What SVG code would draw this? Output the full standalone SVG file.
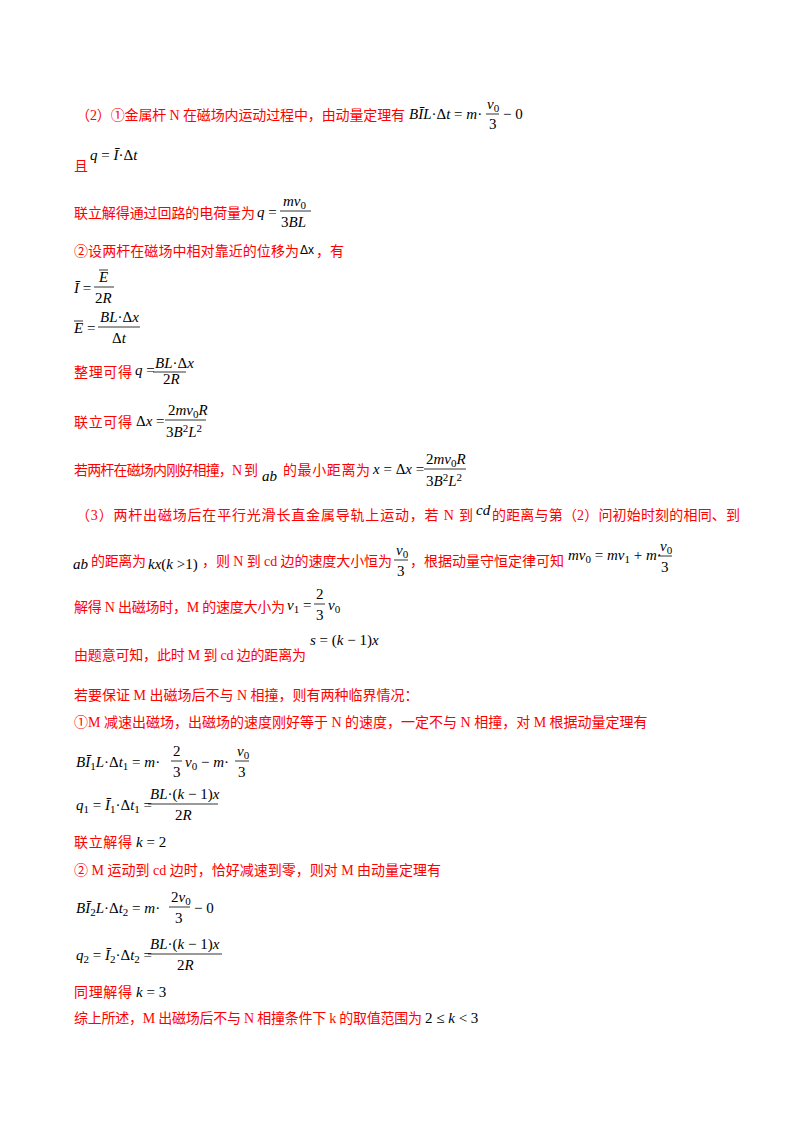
<svg xmlns="http://www.w3.org/2000/svg" width="800" height="1132" viewBox="0 0 800 1132">
<style>
.r{font-family:"Liberation Serif","Noto Sans CJK SC",serif;font-size:14px;fill:#ff0000}
.m{font-family:"Liberation Serif",serif;font-size:15px;font-style:italic;fill:#000}
.s{font-size:11px}
.n{font-style:normal}
line{stroke:#000;stroke-width:0.8}
</style>
<rect width="800" height="1132" fill="#fff"/>
<text class="r" x="76" y="120" textLength="329" lengthAdjust="spacing">（2）①金属杆 N 在磁场内运动过程中，由动量定理有</text>
<text class="m" x="409" y="119">BĪL<tspan class="n">·Δ</tspan>t<tspan class="n"> = </tspan>m<tspan class="n">·</tspan></text>
<text class="m" x="487" y="109">v<tspan class="s n" dy="3">0</tspan></text><line x1="486" y1="114" x2="499" y2="114"/><text class="m n" x="489" y="129">3</text>
<text class="m n" x="503" y="119">− 0</text>

<text class="m" x="90" y="160">q<tspan class="n"> = </tspan>Ī<tspan class="n">·Δ</tspan>t</text>
<text class="r" x="74" y="171">且</text>

<text class="r" x="74" y="218" textLength="181" lengthAdjust="spacing">联立解得通过回路的电荷量为</text>
<text class="m" x="257" y="217">q<tspan class="n"> =</tspan></text>
<text class="m" x="283" y="206">mv<tspan class="s n" dy="3">0</tspan></text><line x1="280" y1="211" x2="311" y2="211"/><text class="m n" x="281" y="227">3<tspan font-style="italic">BL</tspan></text>

<text class="r" x="74" y="256" textLength="225" lengthAdjust="spacing">②设两杆在磁场中相对靠近的位移为</text>
<text x="300" y="254" font-family="Liberation Sans" font-size="12" fill="#000">Δx</text>
<text class="r" x="316" y="256">，有</text>

<text class="m" x="74" y="293">Ī<tspan class="n"> =</tspan></text>
<text class="m" x="99" y="282">E</text><line x1="94" y1="287" x2="114" y2="287"/><line x1="99" y1="270" x2="108" y2="270"/><text class="m" x="95" y="303"><tspan class="n">2</tspan>R</text>

<text class="m" x="74" y="333">E<tspan class="n"> =</tspan></text><line x1="74" y1="321" x2="83" y2="321"/>
<text class="m" x="100" y="322">BL<tspan class="n">·Δ</tspan>x</text><line x1="98" y1="327" x2="140" y2="327"/><text class="m" x="112" y="343"><tspan class="n">Δ</tspan>t</text>

<text class="r" x="74" y="377" textLength="58" lengthAdjust="spacing">整理可得</text>
<text class="m" x="135" y="375" font-size="11">q<tspan class="n"> =</tspan></text>
<text class="m" x="155" y="368" font-size="10">BL<tspan class="n">·Δ</tspan>x</text><line x1="153" y1="372" x2="186" y2="372"/><text class="m" x="163" y="384" font-size="10"><tspan class="n">2</tspan>R</text>

<text class="r" x="74" y="427" textLength="58" lengthAdjust="spacing">联立可得</text>
<text class="m" x="136" y="426"><tspan class="n">Δ</tspan>x<tspan class="n"> =</tspan></text>
<text class="m" x="168" y="415"><tspan class="n">2</tspan>mv<tspan class="s n" dy="3">0</tspan><tspan dy="-3">R</tspan></text><line x1="165" y1="420" x2="206" y2="420"/><text class="m" x="166" y="437"><tspan class="n">3</tspan>B<tspan class="s n" dy="-5">2</tspan><tspan dy="5">L</tspan><tspan class="s n" dy="-5">2</tspan></text>

<text class="r" x="74" y="475" textLength="184" lengthAdjust="spacing">若两杆在磁场内刚好相撞，N 到</text>
<text class="m" x="262" y="481">ab</text>
<text class="r" x="283" y="475" textLength="87" lengthAdjust="spacing">的最小距离为</text>
<text class="m" x="373" y="474">x<tspan class="n"> = Δ</tspan>x<tspan class="n"> =</tspan></text>
<text class="m" x="426" y="464"><tspan class="n">2</tspan>mv<tspan class="s n" dy="3">0</tspan><tspan dy="-3">R</tspan></text><line x1="424" y1="469" x2="466" y2="469"/><text class="m" x="426" y="486"><tspan class="n">3</tspan>B<tspan class="s n" dy="-5">2</tspan><tspan dy="5">L</tspan><tspan class="s n" dy="-5">2</tspan></text>

<text class="r" x="76" y="520" textLength="397" lengthAdjust="spacing">（3）两杆出磁场后在平行光滑长直金属导轨上运动，若 N 到</text>
<text class="m" x="476" y="515" font-size="12">cd</text>
<text class="r" x="492" y="520" textLength="248" lengthAdjust="spacing">的距离与第（2）问初始时刻的相同、到</text>

<text class="m" x="73" y="569">ab</text>
<text class="r" x="91" y="566" textLength="55" lengthAdjust="spacing">的距离为</text>
<text class="m" x="148" y="569">kx<tspan class="n">(</tspan>k<tspan class="n"> &gt;1)</tspan></text>
<text class="r" x="202" y="566" textLength="190" lengthAdjust="spacing">，则 N 到 cd 边的速度大小恒为</text>
<text class="m" x="396" y="555">v<tspan class="s n" dy="3">0</tspan></text><line x1="394" y1="560" x2="408" y2="560"/><text class="m n" x="397" y="576">3</text>
<text class="r" x="410" y="566" textLength="154" lengthAdjust="spacing">，根据动量守恒定律可知</text>
<text class="m" x="568" y="560" font-size="14">mv<tspan class="s n" dy="3">0</tspan><tspan class="n" dy="-3"> = </tspan>mv<tspan class="s n" dy="3">1</tspan><tspan class="n" dy="-3"> + </tspan>m<tspan class="n">·</tspan></text>
<text class="m" x="660" y="551">v<tspan class="s n" dy="3">0</tspan></text><line x1="658" y1="556" x2="672" y2="556"/><text class="m n" x="661" y="572">3</text>

<text class="r" x="74" y="612" textLength="211" lengthAdjust="spacing">解得 N 出磁场时，M 的速度大小为</text>
<text class="m" x="287" y="610">v<tspan class="s n" dy="3">1</tspan><tspan class="n" dy="-3"> =</tspan></text>
<text class="m n" x="316" y="599">2</text><line x1="314" y1="604" x2="325" y2="604"/><text class="m n" x="316" y="620">3</text>
<text class="m" x="328" y="610">v<tspan class="s n" dy="3">0</tspan></text>

<text class="m" x="310" y="645">s<tspan class="n"> = (</tspan>k<tspan class="n"> − 1)</tspan>x</text>
<text class="r" x="74" y="660" textLength="232" lengthAdjust="spacing">由题意可知，此时 M 到 cd 边的距离为</text>

<text class="r" x="74" y="700">若要保证 M 出磁场后不与 N 相撞，则有两种临界情况：</text>
<text class="r" x="74" y="727">①M 减速出磁场，出磁场的速度刚好等于 N 的速度，一定不与 N 相撞，对 M 根据动量定理有</text>

<text class="m" x="76" y="767">BĪ<tspan class="s n" dy="3">1</tspan><tspan dy="-3">L</tspan><tspan class="n">·Δ</tspan>t<tspan class="s n" dy="3">1</tspan><tspan class="n" dy="-3"> = </tspan>m<tspan class="n">·</tspan></text>
<text class="m n" x="173" y="756">2</text><line x1="171" y1="761" x2="182" y2="761"/><text class="m n" x="173" y="777">3</text>
<text class="m" x="185" y="767">v<tspan class="s n" dy="3">0</tspan><tspan class="n" dy="-3"> − </tspan>m<tspan class="n">·</tspan></text>
<text class="m" x="237" y="756">v<tspan class="s n" dy="3">0</tspan></text><line x1="235" y1="761" x2="249" y2="761"/><text class="m n" x="238" y="777">3</text>

<text class="m" x="76" y="810">q<tspan class="s n" dy="3">1</tspan><tspan class="n" dy="-3"> = </tspan>Ī<tspan class="s n" dy="3">1</tspan><tspan class="n" dy="-3">·Δ</tspan>t<tspan class="s n" dy="3">1</tspan><tspan class="n" dy="-3"> =</tspan></text>
<text class="m" x="150" y="799">BL<tspan class="n">·(</tspan>k<tspan class="n"> − 1)</tspan>x</text><line x1="148" y1="804" x2="218" y2="804"/><text class="m" x="175" y="820"><tspan class="n">2</tspan>R</text>

<text class="r" x="74" y="847" textLength="58" lengthAdjust="spacing">联立解得</text>
<text class="m" x="136" y="847">k<tspan class="n"> = 2</tspan></text>

<text class="r" x="74" y="875">② M 运动到 cd 边时，恰好减速到零，则对 M 由动量定理有</text>

<text class="m" x="76" y="913">BĪ<tspan class="s n" dy="3">2</tspan><tspan dy="-3">L</tspan><tspan class="n">·Δ</tspan>t<tspan class="s n" dy="3">2</tspan><tspan class="n" dy="-3"> = </tspan>m<tspan class="n">·</tspan></text>
<text class="m" x="171" y="902"><tspan class="n">2</tspan>v<tspan class="s n" dy="3">0</tspan></text><line x1="169" y1="907" x2="190" y2="907"/><text class="m n" x="175" y="923">3</text>
<text class="m n" x="194" y="913">− 0</text>

<text class="m" x="76" y="960">q<tspan class="s n" dy="3">2</tspan><tspan class="n" dy="-3"> = </tspan>Ī<tspan class="s n" dy="3">2</tspan><tspan class="n" dy="-3">·Δ</tspan>t<tspan class="s n" dy="3">2</tspan><tspan class="n" dy="-3"> =</tspan></text>
<text class="m" x="150" y="949">BL<tspan class="n">·(</tspan>k<tspan class="n"> − 1)</tspan>x</text><line x1="148" y1="954" x2="222" y2="954"/><text class="m" x="177" y="970"><tspan class="n">2</tspan>R</text>

<text class="r" x="74" y="997" textLength="58" lengthAdjust="spacing">同理解得</text>
<text class="m" x="136" y="997">k<tspan class="n"> = 3</tspan></text>

<text class="r" x="74" y="1023" textLength="348" lengthAdjust="spacing">综上所述，M 出磁场后不与 N 相撞条件下 k 的取值范围为</text>
<text class="m" x="425" y="1023"><tspan class="n">2 ≤ </tspan>k<tspan class="n"> &lt; 3</tspan></text>
</svg>
